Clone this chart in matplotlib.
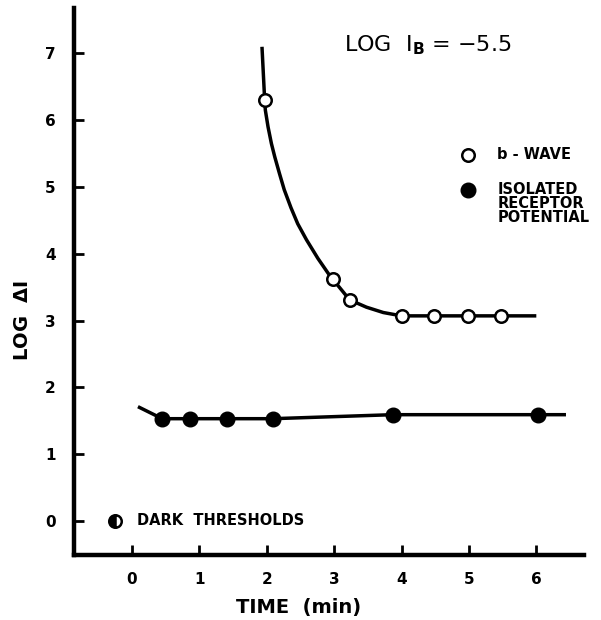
import numpy as np
import matplotlib.pyplot as plt

# b-wave thresholds (open circles)
bwave_t = [1.97, 2.98, 3.23, 4.0, 4.48, 4.99, 5.47]
bwave_log = [6.30, 3.62, 3.31, 3.07, 3.07, 3.07, 3.07]
# hand drawn curve through the b-wave points
bcurve_t = [1.93, 1.97, 1.98, 2.02, 2.07, 2.12, 2.19, 2.26, 2.36, 2.46, 2.59, 2.76, 2.91,
            2.98, 3.23, 3.48, 3.73, 4.0, 6.0]
bcurve_log = [7.10, 6.30, 6.15, 5.90, 5.65, 5.45, 5.20, 4.96, 4.69, 4.45, 4.21, 3.93, 3.71,
              3.62, 3.31, 3.20, 3.12, 3.07, 3.07]

# isolated receptor potential (filled circles)
rp_t = [0.45, 0.86, 1.41, 2.09, 3.87, 6.02]
rp_log = [1.53, 1.53, 1.53, 1.53, 1.59, 1.59]
rpline_t = [0.09, 0.45, 0.86, 1.41, 2.09, 3.87, 6.02, 6.44]
rpline_log = [1.71, 1.53, 1.53, 1.53, 1.53, 1.59, 1.59, 1.59]

dark_t = [-0.25]
dark_log = [0.0]

xticks = [0, 1, 2, 3, 4, 5, 6]
yticks = [0, 1, 2, 3, 4, 5, 6, 7]

plt.rcParams['font.family'] = 'DejaVu Sans'
fig = plt.figure(figsize=(6.01, 6.2), dpi=100)
ax = fig.add_axes([0.123, 0.105, 0.849, 0.882])

ax.plot(bcurve_t, bcurve_log, color='black', lw=2.5, zorder=2, solid_capstyle='butt',
        solid_joinstyle='round')
ax.plot(bwave_t, bwave_log, 'o', ms=9, mfc='white', mec='black', mew=1.8, zorder=3)
ax.plot(rpline_t, rpline_log, color='black', lw=2.5, zorder=2, solid_capstyle='butt')
ax.plot(rp_t, rp_log, 'o', ms=10.5, color='black', zorder=3)
ax.plot(dark_t, dark_log, 'o', ms=9, mfc='black', mfcalt='white', fillstyle='left',
        mec='black', mew=1.8, zorder=3)

ax.set_xlim(-0.86, 6.71)
ax.set_ylim(-0.51, 7.68)
ax.set_xticks(xticks)
ax.set_yticks(yticks)
ax.tick_params(direction='in', length=7, width=2, labelsize=11)
ax.tick_params(axis='x', pad=12)
ax.tick_params(axis='y', pad=13)
for lab in ax.get_xticklabels() + ax.get_yticklabels():
    lab.set_fontweight('bold')
for s in ['top', 'right']:
    ax.spines[s].set_visible(False)
for s in ['left', 'bottom']:
    ax.spines[s].set_linewidth(3.2)

ax.text(0.08, 0.0, 'DARK  THRESHOLDS', fontsize=10.5, fontweight='bold', va='center', ha='left')

# legend drawn by hand like in the figure
ax.plot([4.98], [5.48], 'o', ms=9, mfc='white', mec='black', mew=1.8)
ax.text(5.42, 5.48, 'b - WAVE', fontsize=10.5, fontweight='bold', va='center')
ax.plot([4.98], [4.96], 'o', ms=10.5, color='black')
ax.text(5.42, 5.08, 'ISOLATED\nRECEPTOR\nPOTENTIAL', fontsize=10.5, fontweight='bold',
        va='top', linespacing=0.95)

ax.text(3.15, 7.12, r'LOG  I$_\mathbf{B}$ = $-$5.5', fontsize=16, va='center')

fig.text(0.497, 0.005, 'TIME  (min)', fontsize=14, fontweight='bold', ha='center', va='bottom')
fig.text(0.037, 0.483, r'LOG  $\mathbf{\Delta}$I', fontsize=14, fontweight='bold', rotation=90,
         ha='center', va='center')

fig.savefig('out.png', dpi=100)
